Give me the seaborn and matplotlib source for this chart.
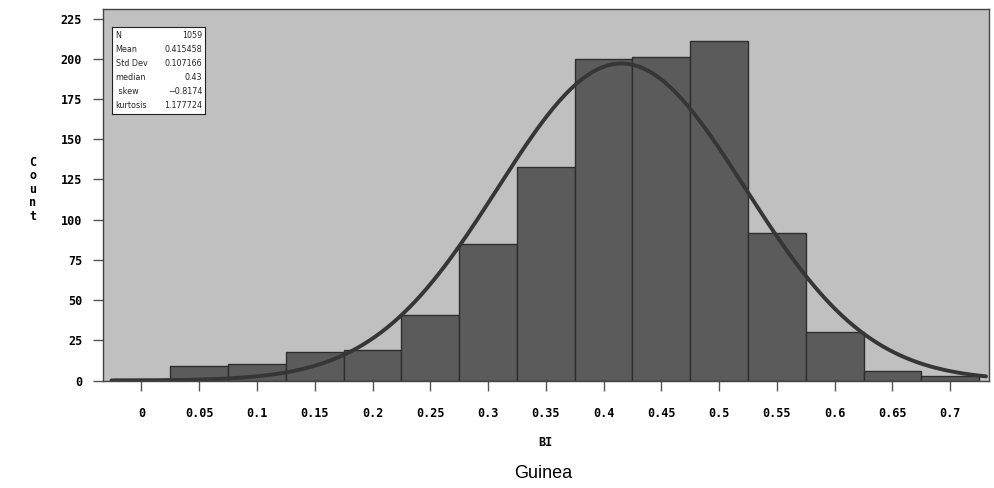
import numpy as np
import pandas as pd
import matplotlib
matplotlib.use("Agg")
import matplotlib.pyplot as plt
import seaborn as sns

# ---- data ----
bin_centers = [0.0, 0.05, 0.10, 0.15, 0.20, 0.25, 0.30, 0.35, 0.40, 0.45, 0.50, 0.55, 0.60, 0.65, 0.70]
counts = [1, 9, 10, 18, 19, 41, 85, 133, 200, 201, 211, 92, 30, 6, 3]
bin_width = 0.05

stat_names = ["N", "Mean", "Std Dev", "median", " skew", "kurtosis"]
stat_values = ["1059", "0.415458", "0.107166", "0.43", "\u22120.8174", "1.177724"]
n_obs = 1059
mean_bi = 0.415458
std_bi = 0.107166

xticks = [0, 0.05, 0.1, 0.15, 0.2, 0.25, 0.3, 0.35, 0.4, 0.45, 0.5, 0.55, 0.6, 0.65, 0.7]
xtick_labels = ["0", "0.05", "0.1", "0.15", "0.2", "0.25", "0.3", "0.35", "0.4", "0.45",
                "0.5", "0.55", "0.6", "0.65", "0.7"]
yticks = [0, 25, 50, 75, 100, 125, 150, 175, 200, 225]

sns.set_style("white")
plt.rcParams['font.family'] = ['DejaVu Sans']

fig = plt.figure(figsize=(9.94, 4.88), dpi=100)
ax = fig.add_axes([103 / 994, 1 - 380.5 / 488, (989 - 103) / 994, (380.5 - 9) / 488])
ax.set_facecolor("#c0c0c0")

df = pd.DataFrame({"BI": bin_centers, "count": counts})
sns.histplot(data=df, x="BI", weights="count", binwidth=bin_width,
             binrange=(bin_centers[0] - bin_width / 2, bin_centers[-1] + bin_width / 2), ax=ax,
             color="#5b5b5b", alpha=1, edgecolor="#2e2e2e", linewidth=1.0)

# fitted normal curve from the stated mean / std / N
xc = np.linspace(-0.026, 0.731, 300)
yc = n_obs * bin_width / (std_bi * np.sqrt(2 * np.pi)) * np.exp(-0.5 * ((xc - mean_bi) / std_bi) ** 2)
sns.lineplot(x=xc, y=yc, ax=ax, color="#363636", linewidth=2.8)

ax.set_xlim(-0.0333, 0.7336)
ax.set_ylim(0, 231)
ax.set_xticks(xticks)
ax.set_xticklabels(xtick_labels)
ax.set_yticks(yticks)
ax.set_yticklabels([str(v) for v in yticks])
tick_font = dict(family="DejaVu Sans Mono", weight="bold", size=8.5, color="black")
for lab in ax.get_xticklabels() + ax.get_yticklabels():
    lab.set_fontfamily("DejaVu Sans Mono")
    lab.set_fontweight("bold")
    lab.set_fontsize(8.5)
    lab.set_color("black")
ax.tick_params(axis="x", direction="out", length=7, width=1, color="#555555", pad=12, bottom=True)
ax.tick_params(axis="y", direction="out", length=7, width=1, color="#555555", pad=8, left=True)
for sp in ax.spines.values():
    sp.set_visible(True)
    sp.set_color("#444444")
    sp.set_linewidth(1.0)

ax.set_xlabel("")
ax.set_ylabel("")
fig.text(545 / 994, 1 - 442 / 488, "BI", ha="center", va="center", **tick_font)
fig.text(33 / 994, 1 - 189 / 488, "C\no\nu\nn\nt", ha="center", va="center",
         linespacing=1.05, **tick_font)
fig.text(543 / 994, 1 - 473 / 488, "Guinea", ha="center", va="center",
         family="Liberation Sans", fontsize=13, color="black")

# statistics box
box = ax.inset_axes([(112 - 103) / 886, 1 - (114 - 9) / 371.5, (205 - 112) / 886, (114 - 27) / 371.5])
box.set_facecolor("white")
box.set_xticks([])
box.set_yticks([])
for sp in box.spines.values():
    sp.set_color("#222222")
    sp.set_linewidth(0.8)
nrow = len(stat_names)
for i, (nm, val) in enumerate(zip(stat_names, stat_values)):
    yy = 1 - (i + 0.6) / (nrow + 0.2)
    box.text(0.04, yy, nm, ha="left", va="center", fontsize=5.8, transform=box.transAxes)
    box.text(0.97, yy, val, ha="right", va="center", fontsize=5.8, transform=box.transAxes)

fig.savefig("out.png", dpi=100)
